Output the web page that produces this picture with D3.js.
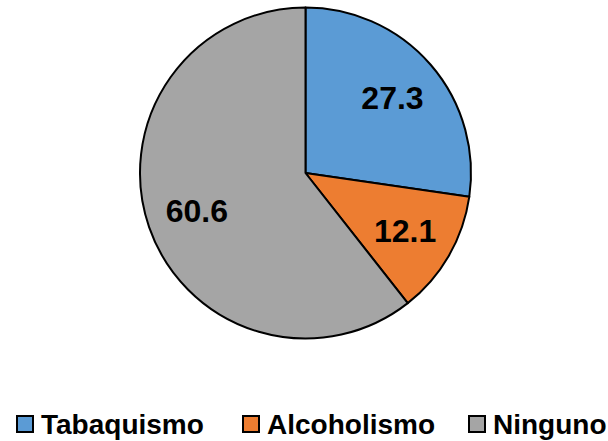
<!DOCTYPE html>
<html>
<head>
<meta charset="utf-8">
<script src="https://cdn.jsdelivr.net/npm/d3@7"></script>
<style>
  html, body { margin: 0; padding: 0; background: #fff; }
  svg { display: block; }
  text { font-family: "Liberation Sans", Arial, sans-serif; font-weight: bold; fill: #000; }
</style>
</head>
<body>
<svg id="chart" width="608" height="441"></svg>
<script>
// Habits distribution (percent)
const categories = ["Tabaquismo", "Alcoholismo", "Ninguno"];
const values = [27.3, 12.1, 60.6];
const colors = ["#5B9BD5", "#ED7D31", "#A5A5A5"];

const svg = d3.select("#chart");
const W = 608, H = 441;
const cx = 305.5, cy = 173, R = 165.5;

const pie = d3.pie().sort(null).value(d => d.value);
const data = categories.map((c, i) => ({ name: c, value: values[i], color: colors[i] }));
const arcs = pie(data);

const arc = d3.arc().innerRadius(0).outerRadius(R);
const labelArc = d3.arc().innerRadius(115).outerRadius(115);

const g = svg.append("g").attr("transform", `translate(${cx},${cy})`);

g.selectAll("path.slice")
  .data(arcs)
  .join("path")
  .attr("class", "slice")
  .attr("d", arc)
  .attr("fill", d => d.data.color)
  .attr("stroke", "#000")
  .attr("stroke-width", 2)
  .attr("stroke-linejoin", "round");

g.selectAll("text.val")
  .data(arcs)
  .join("text")
  .attr("class", "val")
  .attr("transform", d => `translate(${labelArc.centroid(d)})`)
  .attr("text-anchor", "middle")
  .attr("dy", "0.36em")
  .style("font-size", "32px")
  .text(d => d3.format(".1f")(d.data.value));

// Legend along the bottom
const legend = svg.append("g").attr("class", "legend");
const legendX = d3.scalePoint().domain(categories).range([16, 468]);
const item = legend.selectAll("g.item")
  .data(data)
  .join("g")
  .attr("class", "item")
  .attr("transform", d => `translate(${legendX(d.name)},415)`);

item.append("rect")
  .attr("x", 1).attr("y", 1)
  .attr("width", 16).attr("height", 16)
  .attr("fill", d => d.color)
  .attr("stroke", "#000")
  .attr("stroke-width", 2);

item.append("text")
  .attr("x", 25)
  .attr("y", 18.5)
  .style("font-size", "28px")
  .text(d => d.name);
</script>
</body>
</html>
